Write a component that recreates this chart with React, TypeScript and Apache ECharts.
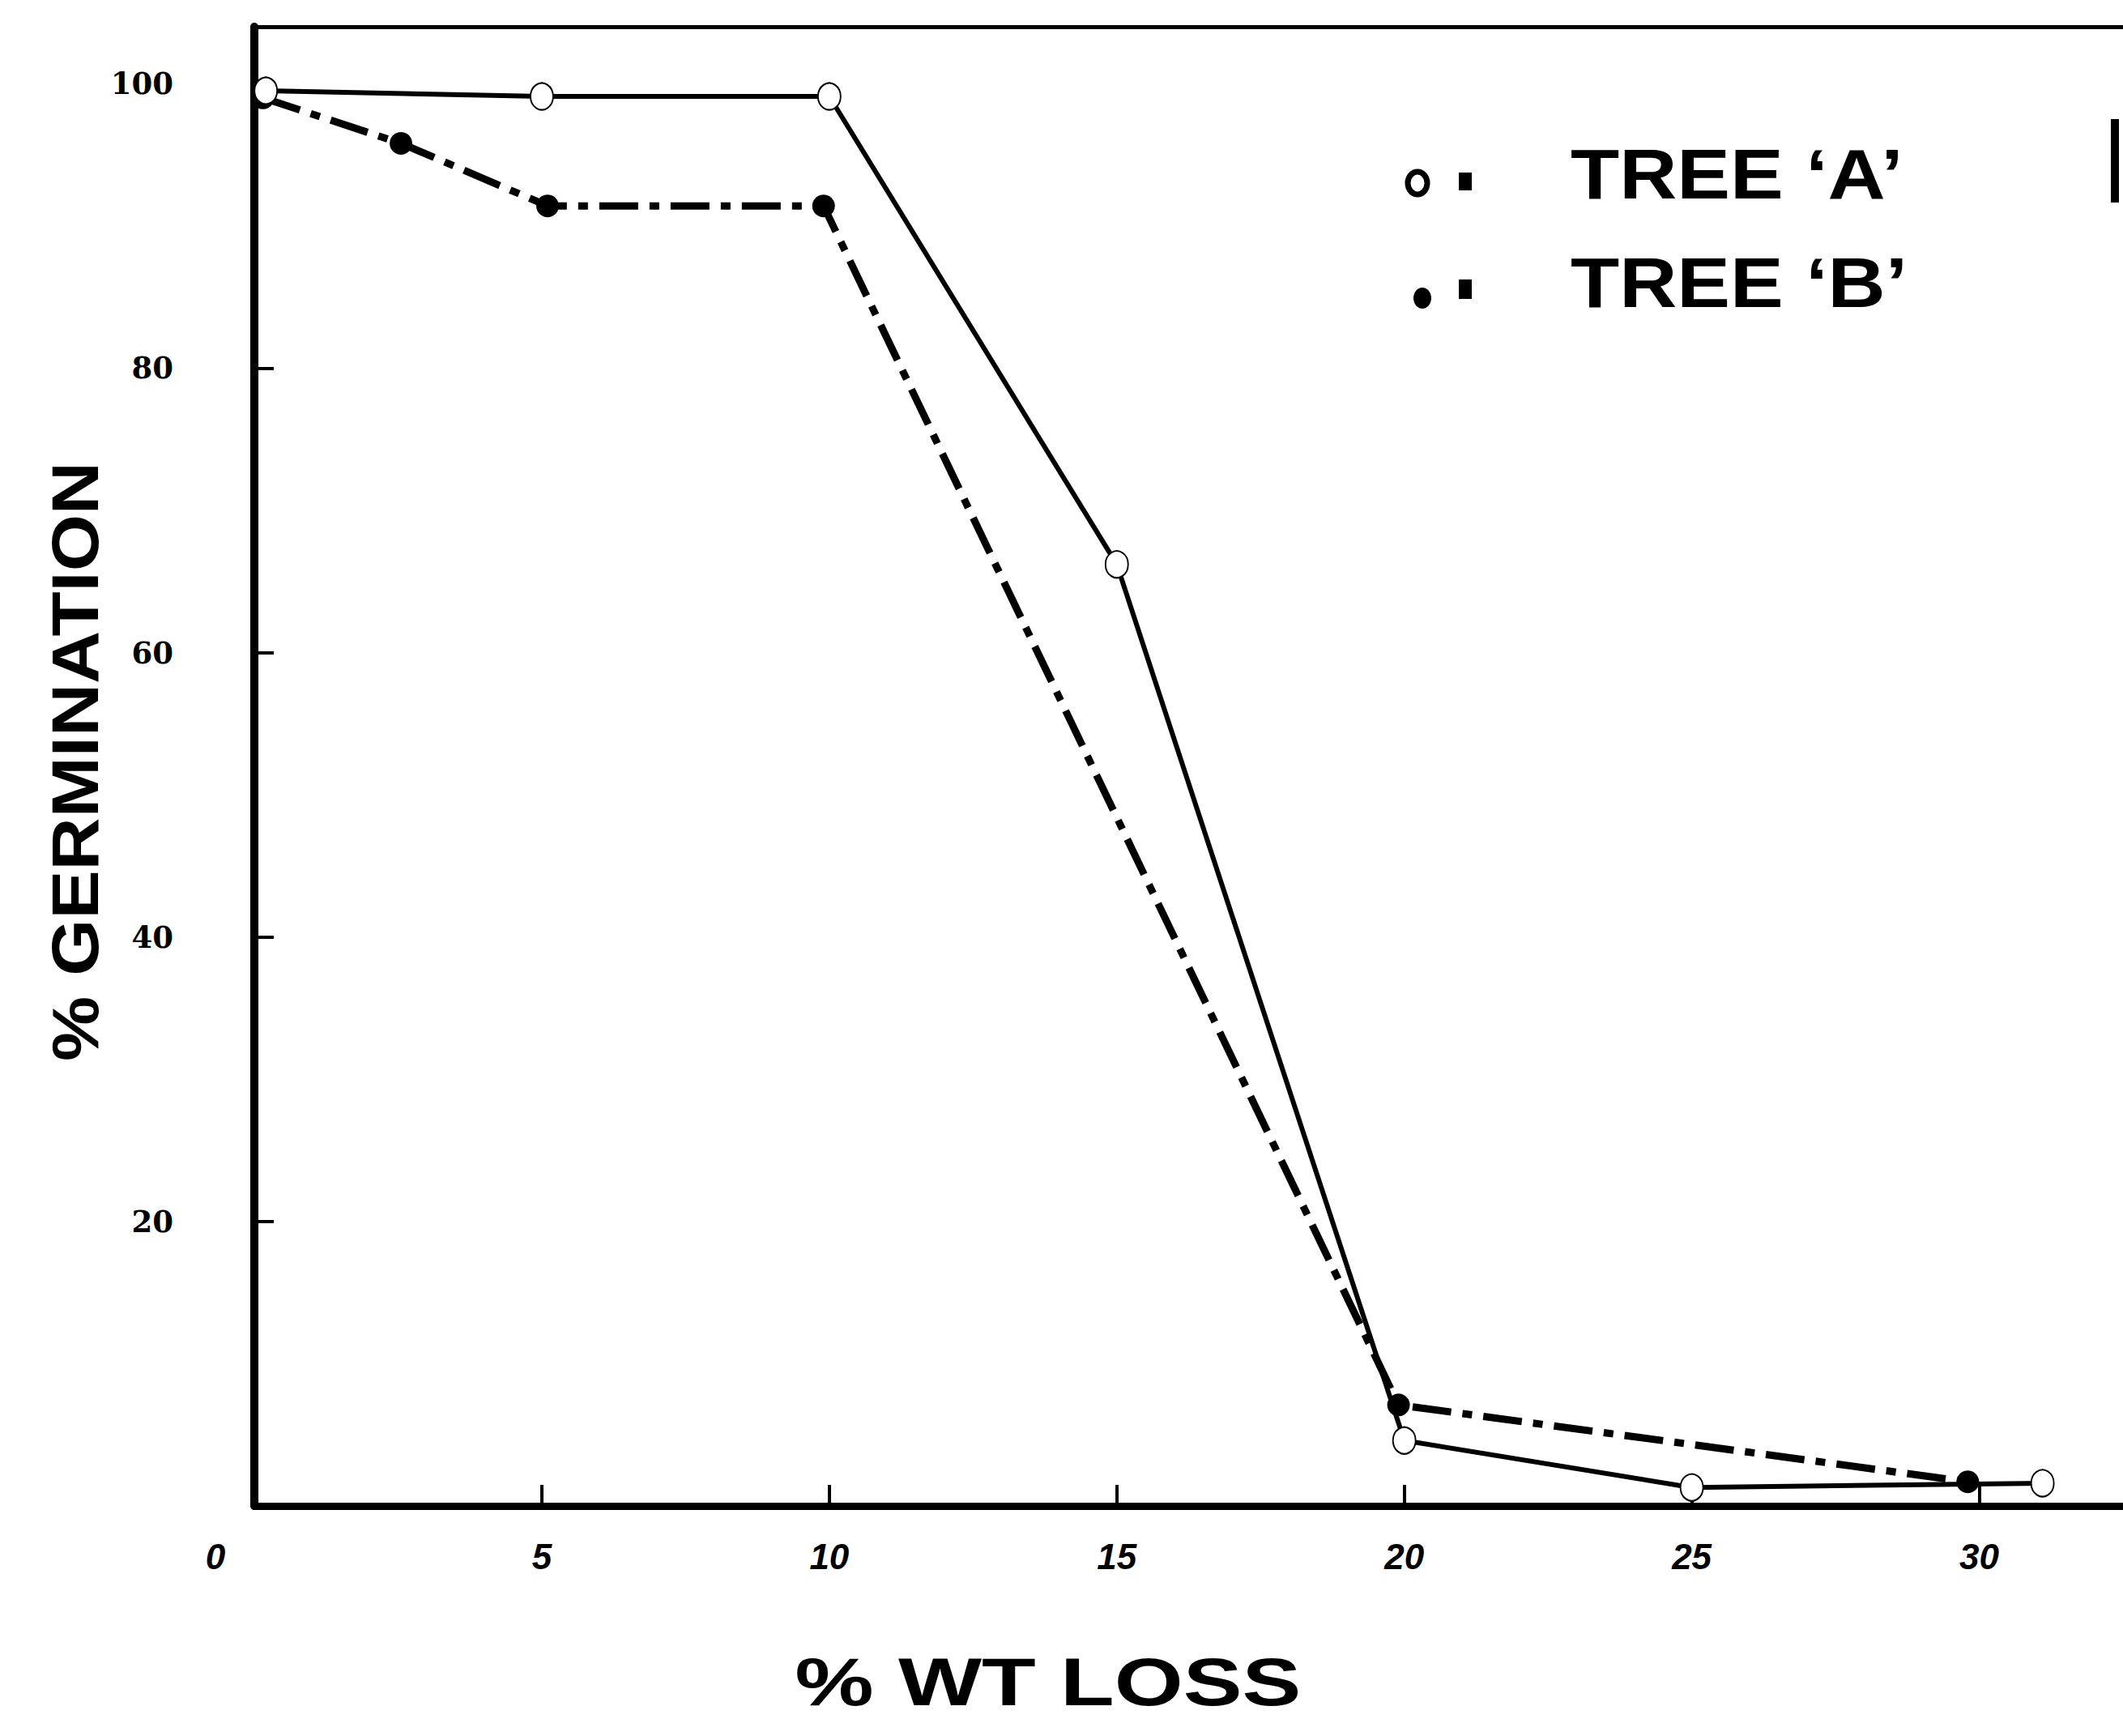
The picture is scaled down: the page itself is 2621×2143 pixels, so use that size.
import React, { useEffect, useRef } from "react";
import * as echarts from "echarts";

// % weight loss vs % germination
const treeA: [number, number][] = [
  [0.2, 99.5], [5, 99.1], [10, 99.1], [15, 66.2], [20, 4.6], [25, 1.3], [31.1, 1.6],
];
const treeB: [number, number][] = [
  [0.15, 99.0], [2.55, 95.8], [5.1, 91.4], [9.9, 91.4], [19.9, 7.1], [29.8, 1.7],
];
const xTickValues = [0, 5, 10, 15, 20, 25, 30];
const yTickValues = [20, 40, 60, 80, 100];
const seriesNames = ["TREE \u2018A\u2019", "TREE \u2018B\u2019"];
const xTitle = "% WT LOSS";
const yTitle = "% GERMINATION";

export default function App() {
  const ref = useRef<HTMLDivElement>(null);
  useEffect(() => {
    if (!ref.current) return;
    const chart = echarts.init(ref.current, null, { renderer: "svg" });
    const black = "#000";
    const xLabelFont = { fontFamily: "Liberation Sans", fontWeight: "bold", fontStyle: "italic", fontSize: 44, color: black };
    chart.setOption({
      animation: false,
      backgroundColor: "#fff",
      grid: { left: 314, right: 0, top: 33, bottom: 284, containLabel: false },
      xAxis: [
        {
          type: "value",
          min: 0,
          max: 32.5,
          interval: 5,
          axisLine: { show: true, onZero: false, lineStyle: { color: black, width: 9 } },
          axisTick: { show: true, inside: true, length: 26, lineStyle: { color: black, width: 4 }, customValues: xTickValues },
          axisLabel: {
            customValues: xTickValues,
            margin: 40,
            ...xLabelFont,
            formatter: (v: number) => (v === 0 ? "{z|0}" : String(v)),
            rich: { z: { ...xLabelFont, padding: [0, 96, 0, 0] } },
          },
          splitLine: { show: false },
        },
        {
          type: "value",
          position: "top",
          min: 0,
          max: 32.5,
          axisLine: { show: true, onZero: false, lineStyle: { color: black, width: 5 } },
          axisTick: { show: false },
          axisLabel: { show: false },
          splitLine: { show: false },
        },
      ],
      yAxis: {
        type: "value",
        min: 0,
        max: 104,
        interval: 20,
        axisLine: { show: true, onZero: false, lineStyle: { color: black, width: 10 } },
        axisTick: { show: true, inside: true, length: 24, lineStyle: { color: black, width: 4 }, customValues: yTickValues },
        axisLabel: {
          customValues: yTickValues,
          margin: 100,
          color: black,
          fontFamily: "DejaVu Serif",
          fontWeight: "bold",
          fontSize: 37,
        },
        splitLine: { show: false },
      },
      series: [
        {
          name: seriesNames[1],
          type: "line",
          data: treeB,
          xAxisIndex: 0,
          symbol: "circle",
          symbolSize: 28,
          itemStyle: { color: black },
          lineStyle: { color: black, width: 9, type: [48, 14, 12, 14], cap: "butt" },
          z: 2,
        },
        {
          name: seriesNames[0],
          type: "line",
          data: treeA,
          xAxisIndex: 0,
          symbol: "emptyCircle",
          symbolSize: [28, 33],
          itemStyle: { color: black, borderWidth: 10, borderColor: black },
          lineStyle: { color: black, width: 6 },
          z: 3,
        },
      ],
      graphic: [
        {
          type: "text",
          x: 92,
          y: 940,
          rotation: Math.PI / 2,
          scaleX: 1.1,
          style: {
            text: yTitle,
            fill: black,
            font: "bold 82px 'Liberation Sans'",
            textAlign: "center",
            textVerticalAlign: "middle",
          },
        },
        {
          type: "text",
          x: 1294,
          y: 2076,
          scaleX: 1.3,
          style: {
            text: xTitle,
            fill: black,
            font: "bold 84px 'Liberation Sans'",
            textAlign: "center",
            textVerticalAlign: "middle",
          },
        },
        {
          type: "ellipse",
          shape: { cx: 1750, cy: 226, rx: 12, ry: 14 },
          style: { fill: "#fff", stroke: black, lineWidth: 7 },
        },
        { type: "rect", shape: { x: 1801, y: 213, width: 16, height: 22 }, style: { fill: black } },
        {
          type: "text",
          x: 1939,
          y: 214,
          scaleX: 1.12,
          style: { text: seriesNames[0], fill: black, font: "bold 88px 'Liberation Sans'", textAlign: "left", textVerticalAlign: "middle" },
        },
        {
          type: "ellipse",
          shape: { cx: 1756, cy: 368, rx: 11, ry: 13 },
          style: { fill: black },
        },
        { type: "rect", shape: { x: 1801, y: 345, width: 16, height: 24 }, style: { fill: black } },
        {
          type: "text",
          x: 1939,
          y: 348,
          scaleX: 1.12,
          style: { text: seriesNames[1], fill: black, font: "bold 88px 'Liberation Sans'", textAlign: "left", textVerticalAlign: "middle" },
        },
        { type: "rect", shape: { x: 2606, y: 147, width: 10, height: 103 }, style: { fill: black } },
      ],
    });
    return () => chart.dispose();
  }, []);
  return (
    <div
      ref={ref}
      style={{ position: "absolute", left: 0, top: 0, width: 2621, height: 2143, background: "#fff" }}
    />
  );
}
